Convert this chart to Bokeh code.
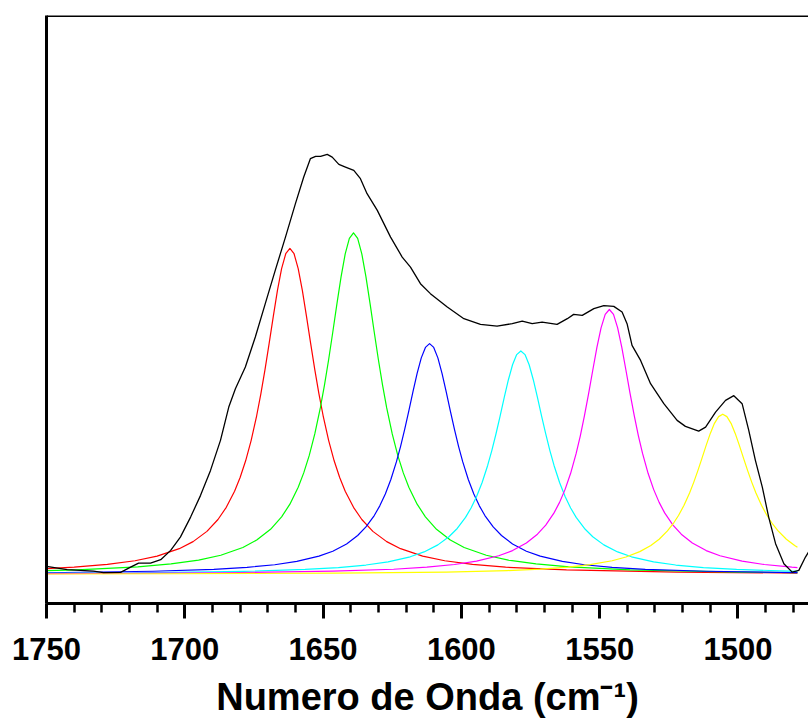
from bokeh.plotting import figure
from bokeh.models import Range1d, SingleIntervalTicker, FixedTicker, Span
from bokeh.embed import file_html
from bokeh.resources import INLINE

# ---- data (wavenumber cm-1, absorbance a.u.) ----
spec_x = [1750, 1742.5, 1733.0, 1729.4, 1723.2, 1719.6, 1716.7, 1712.4, 1708.7, 1705.1,
          1701.6, 1697.9, 1694.3, 1690.7, 1687.1, 1684.1, 1681.7, 1678.1, 1674.5, 1670.9,
          1667.3, 1663.6, 1660.0, 1657.0, 1654.6, 1652.7, 1650.9, 1648.5, 1646.7, 1644.3,
          1641.9, 1638.9, 1636.5, 1634.1, 1630.4, 1625.6, 1621.4, 1618.4, 1614.8, 1611.2,
          1605.1, 1599.1, 1593.1, 1587.1, 1581.6, 1578.0, 1574.4, 1570.8, 1565.4, 1561.7,
          1559.4, 1556.3, 1552.1, 1548.5, 1544.9, 1541.9, 1540.1, 1538.3, 1535.2, 1531.6,
          1526.8, 1522.0, 1519.0, 1514.2, 1511.7, 1508.1, 1504.5, 1501.5, 1498.5, 1496.1,
          1493.7, 1491.2, 1488.9, 1486.4, 1483.4, 1480.4, 1478.0, 1475.6, 1474.5]
spec_y = [0.0143, 0.0084, 0.0059, 0.0030, 0.0036, 0.0130, 0.0202, 0.0202, 0.0263, 0.0429,
          0.0666, 0.1023, 0.1411, 0.1857, 0.2393, 0.2988, 0.3316, 0.3702, 0.4238, 0.4834,
          0.5429, 0.6023, 0.6620, 0.7095, 0.7423, 0.7464, 0.7464, 0.7500, 0.7452, 0.7321,
          0.7273, 0.7214, 0.7066, 0.6798, 0.6500, 0.6023, 0.5666, 0.5488, 0.5191, 0.5013,
          0.4773, 0.4566, 0.4464, 0.4434, 0.4477, 0.4523, 0.4477, 0.4505, 0.4464, 0.4566,
          0.4643, 0.4625, 0.4745, 0.4798, 0.4786, 0.4684, 0.4477, 0.4089, 0.3821, 0.3405,
          0.3048, 0.2750, 0.2643, 0.2559, 0.2630, 0.2898, 0.3107, 0.3191, 0.3048, 0.2571,
          0.2036, 0.1559, 0.1023, 0.0548, 0.0191, 0.0041, 0.0071, 0.0309, 0.0398]

red_x = [1750, 1740, 1728, 1718, 1710, 1702, 1697, 1692, 1688, 1685,
         1682, 1680, 1678, 1676, 1674, 1672.5, 1671, 1669.5, 1668, 1666.5,
         1665, 1663.5, 1662, 1660.5, 1659, 1657.5, 1656, 1654.5, 1653, 1651.5,
         1650, 1648, 1646, 1644, 1642, 1639, 1636, 1632, 1627, 1622,
         1614, 1606, 1596, 1584, 1562, 1522, 1478.5]
red_y = [0.0101, 0.0128, 0.0178, 0.0243, 0.0327, 0.0459, 0.0585, 0.0768, 0.0980, 0.1197,
         0.1484, 0.1729, 0.2028, 0.2393, 0.2837, 0.3224, 0.3657, 0.4125, 0.4608, 0.5070,
         0.5461, 0.5726, 0.582, 0.5726, 0.5461, 0.5070, 0.4608, 0.4125, 0.3657, 0.3224,
         0.2837, 0.2393, 0.2028, 0.1729, 0.1484, 0.1197, 0.0980, 0.0768, 0.0585, 0.0459,
         0.0327, 0.0243, 0.0178, 0.0128, 0.0079, 0.0040, 0.0024]

green_x = [1750, 1739, 1717, 1705, 1695, 1687, 1679, 1674, 1669, 1665,
           1662, 1659, 1657, 1655, 1653, 1651, 1649.5, 1648, 1646.5, 1645,
           1643.5, 1642, 1640.5, 1639, 1637.5, 1636, 1634.5, 1633, 1631.5, 1630,
           1628.5, 1627, 1625, 1623, 1621, 1619, 1616, 1613, 1609, 1604,
           1599, 1591, 1583, 1573, 1561, 1539, 1499, 1478.5]
green_y = [0.0067, 0.0082, 0.0134, 0.0186, 0.0255, 0.0342, 0.0481, 0.0613, 0.0805, 0.1027,
           0.1254, 0.1556, 0.1812, 0.2125, 0.2508, 0.2973, 0.3379, 0.3833, 0.4324, 0.4830,
           0.5314, 0.5724, 0.6001, 0.610, 0.6001, 0.5724, 0.5314, 0.4830, 0.4324, 0.3833,
           0.3379, 0.2973, 0.2508, 0.2125, 0.1812, 0.1556, 0.1254, 0.1027, 0.0805, 0.0613,
           0.0481, 0.0342, 0.0255, 0.0186, 0.0134, 0.0082, 0.0042, 0.0032]

blue_x = [1750, 1711.5, 1689.5, 1677.5, 1667.5, 1659.5, 1651.5, 1646.5, 1641.5, 1637.5,
          1634.5, 1631.5, 1629.5, 1627.5, 1625.5, 1623.5, 1622, 1620.5, 1619, 1617.5,
          1616, 1614.5, 1613, 1611.5, 1610, 1608.5, 1607, 1605.5, 1604, 1602.5,
          1601, 1599.5, 1597.5, 1595.5, 1593.5, 1591.5, 1588.5, 1585.5, 1581.5, 1576.5,
          1571.5, 1563.5, 1555.5, 1545.5, 1533.5, 1511.5, 1478.5]
blue_y = [0.0029, 0.0056, 0.0091, 0.0126, 0.0172, 0.0231, 0.0325, 0.0414, 0.0544, 0.0694,
          0.0847, 0.1051, 0.1224, 0.1435, 0.1694, 0.2008, 0.2282, 0.2589, 0.2920, 0.3262,
          0.3589, 0.3866, 0.4053, 0.412, 0.4053, 0.3866, 0.3589, 0.3262, 0.2920, 0.2589,
          0.2282, 0.2008, 0.1694, 0.1435, 0.1224, 0.1051, 0.0847, 0.0694, 0.0544, 0.0414,
          0.0325, 0.0231, 0.0172, 0.0126, 0.0091, 0.0056, 0.0032]

cyan_x = [1750, 1718.5, 1678.5, 1656.5, 1644.5, 1634.5, 1626.5, 1618.5, 1613.5, 1608.5,
          1604.5, 1601.5, 1598.5, 1596.5, 1594.5, 1592.5, 1590.5, 1589, 1587.5, 1586,
          1584.5, 1583, 1581.5, 1580, 1578.5, 1577, 1575.5, 1574, 1572.5, 1571,
          1569.5, 1568, 1566.5, 1564.5, 1562.5, 1560.5, 1558.5, 1555.5, 1552.5, 1548.5,
          1543.5, 1538.5, 1530.5, 1522.5, 1512.5, 1500.5, 1478.5]
cyan_y = [0.0018, 0.0028, 0.0054, 0.0088, 0.0122, 0.0167, 0.0224, 0.0314, 0.0401, 0.0527,
          0.0672, 0.0820, 0.1017, 0.1185, 0.1390, 0.1641, 0.1945, 0.2210, 0.2507, 0.2828,
          0.3159, 0.3476, 0.3744, 0.3925, 0.399, 0.3925, 0.3744, 0.3476, 0.3159, 0.2828,
          0.2507, 0.2210, 0.1945, 0.1641, 0.1390, 0.1185, 0.1017, 0.0820, 0.0672, 0.0527,
          0.0401, 0.0314, 0.0224, 0.0167, 0.0122, 0.0088, 0.0054]

magenta_x = [1750, 1686.5, 1646.5, 1624.5, 1612.5, 1602.5, 1594.5, 1586.5, 1581.5, 1576.5,
             1572.5, 1569.5, 1566.5, 1564.5, 1562.5, 1560.5, 1558.5, 1557, 1555.5, 1554,
             1552.5, 1551, 1549.5, 1548, 1546.5, 1545, 1543.5, 1542, 1540.5, 1539,
             1537.5, 1536, 1534.5, 1532.5, 1530.5, 1528.5, 1526.5, 1523.5, 1520.5, 1516.5,
             1511.5, 1506.5, 1498.5, 1490.5, 1480.5, 1478.5]
magenta_y = [0.0014, 0.0029, 0.0057, 0.0092, 0.0128, 0.0176, 0.0236, 0.0333, 0.0425, 0.0561,
             0.0718, 0.0880, 0.1098, 0.1286, 0.1518, 0.1805, 0.2160, 0.2475, 0.2833, 0.3229,
             0.3645, 0.4052, 0.4403, 0.4643, 0.473, 0.4643, 0.4403, 0.4052, 0.3645, 0.3229,
             0.2833, 0.2475, 0.2160, 0.1805, 0.1518, 0.1286, 0.1098, 0.0880, 0.0718, 0.0561,
             0.0425, 0.0333, 0.0236, 0.0176, 0.0128, 0.0121]

yellow_x = [1750, 1705.5, 1645.5, 1605.5, 1583.5, 1571.5, 1561.5, 1553.5, 1545.5, 1540.5,
            1535.5, 1531.5, 1528.5, 1525.5, 1523.5, 1521.5, 1519.5, 1517.5, 1516, 1514.5,
            1513, 1511.5, 1510, 1508.5, 1507, 1505.5, 1504, 1502.5, 1501, 1499.5,
            1498, 1496.5, 1495, 1493.5, 1491.5, 1489.5, 1487.5, 1485.5, 1482.5, 1479.5,
            1478.5]
yellow_y = [0.0007, 0.0011, 0.0021, 0.0042, 0.0068, 0.0094, 0.0130, 0.0174, 0.0243, 0.0310,
            0.0406, 0.0516, 0.0628, 0.0776, 0.0900, 0.1051, 0.1234, 0.1454, 0.1643, 0.1852,
            0.2076, 0.2303, 0.2517, 0.2697, 0.2817, 0.286, 0.2817, 0.2697, 0.2517, 0.2303,
            0.2076, 0.1852, 0.1643, 0.1454, 0.1234, 0.1051, 0.0900, 0.0776, 0.0628, 0.0516,
            0.0485]

components = [
    (red_x, red_y, "#FF0000"),
    (green_x, green_y, "#00FF00"),
    (blue_x, blue_y, "#0000FF"),
    (cyan_x, cyan_y, "#00FFFF"),
    (magenta_x, magenta_y, "#FF00FF"),
    (yellow_x, yellow_y, "#FFFF00"),
]

x_label = "Numero de Onda (cm\u207b\u00b9)"
FONT = "Liberation Sans"

p = figure(width=808, height=722,
           x_range=Range1d(1750, 1474.5), y_range=Range1d(-0.052, 0.998),
           output_backend="svg", toolbar_location=None,
           min_border_left=46, min_border_right=0, min_border_top=15, min_border_bottom=119)

p.outline_line_color = None
p.grid.visible = False
p.background_fill_color = "white"
p.border_fill_color = "white"

for cx, cy, col in components:
    p.line(cx, cy, line_color=col, line_width=1.2, line_join="round")
p.line(spec_x, spec_y, line_color="black", line_width=1.3, line_join="round")

# top spine
p.add_layout(Span(location=0.998, dimension="width", line_color="black", line_width=3))

# x axis
xa = p.xaxis[0]
xa.ticker = SingleIntervalTicker(interval=50, num_minor_ticks=5)
xa.axis_line_width = 3
xa.axis_line_color = "black"
xa.major_tick_in = 0
xa.major_tick_out = 15
xa.major_tick_line_width = 3
xa.minor_tick_in = 0
xa.minor_tick_out = 9
xa.minor_tick_line_width = 2.5
xa.major_label_text_font = FONT
xa.major_label_text_font_style = "bold"
xa.major_label_text_font_size = "31px"
xa.major_label_text_color = "black"
xa.major_label_standoff = 19
xa.axis_label = x_label
xa.axis_label_text_font = FONT
xa.axis_label_text_font_style = "bold"
xa.axis_label_text_font_size = "38px"
xa.axis_label_text_color = "black"
xa.axis_label_standoff = 13

# y axis: only a thick spine
ya = p.yaxis[0]
ya.ticker = FixedTicker(ticks=[])
ya.axis_line_width = 3
ya.axis_line_color = "black"
ya.major_tick_line_color = None
ya.minor_tick_line_color = None

open("out.html", "w").write(file_html(p, INLINE))
